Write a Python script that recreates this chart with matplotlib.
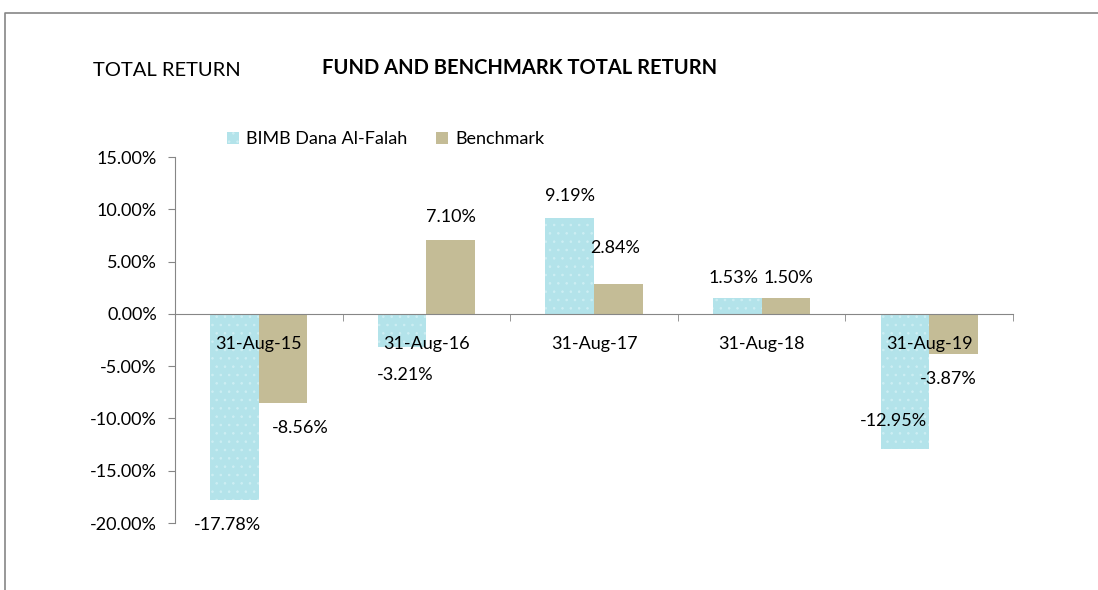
import matplotlib
matplotlib.use("Agg")
import matplotlib.pyplot as plt
import numpy as np
from matplotlib.lines import Line2D
from matplotlib.patches import Patch

categories = ["31-Aug-15", "31-Aug-16", "31-Aug-17", "31-Aug-18", "31-Aug-19"]
fund = [-17.78, -3.21, 9.19, 1.53, -12.95]
bench = [-8.56, 7.10, 2.84, 1.50, -3.87]
series_names = ["BIMB Dana Al-Falah", "Benchmark"]
yticks = [15, 10, 5, 0, -5, -10, -15, -20]

# label offsets in points (dx, dy) relative to bar end
fund_off = [(-5, -18), (2, -19.5), (0, 16), (-3, 14.5), (-8, 20)]
bench_off = [(12, -18), (0, 16.5), (-2, 26), (1.5, 14.5), (-4, -18)]

plt.rcParams['font.family'] = ['Lato', 'DejaVu Sans']
plt.rcParams['hatch.linewidth'] = 0.6

fig = plt.figure(figsize=(10.98, 5.90), dpi=100)
ax = fig.add_axes([175/1098, 67/590, (1013-175)/1098, (523-157)/590])

x = np.arange(len(categories))
w = 0.29
fund_c = "#b3e3ea"
bench_c = "#c4bc96"
ax.bar(x - w/2, fund, w, color=fund_c, edgecolor="#cdeef3", hatch="..", linewidth=0)
ax.bar(x + w/2, bench, w, color=bench_c, linewidth=0)

fs = 13
ax.set_xlim(-0.5, len(categories) - 0.5)
ax.set_ylim(-20, 15)
ax.set_yticks(yticks)
ax.set_yticklabels([f"{v:.2f}%" for v in yticks], fontsize=fs)
ax.tick_params(axis='y', direction='out', length=5, color="#868686", pad=8)

for s in ["top", "right"]:
    ax.spines[s].set_visible(False)
ax.spines["left"].set_color("#868686")
ax.spines["bottom"].set_color("#868686")
ax.spines["bottom"].set_position(("data", 0))
ax.set_xticks(x)
ax.set_xticklabels(categories, fontsize=fs)
ax.tick_params(axis='x', which='major', length=0, pad=16)
ax.set_xticks(np.arange(-0.5, len(categories), 1.0), minor=True)
ax.tick_params(axis='x', which='minor', direction='out', length=5, color="#868686")

for i in range(len(categories)):
    for val, xc, off in ((fund[i], x[i] - w/2, fund_off[i]), (bench[i], x[i] + w/2, bench_off[i])):
        ax.annotate(f"{val:.2f}%", (xc, val), xytext=off, textcoords="offset points",
                    ha="center", va="center", fontsize=fs)

handles = [Patch(facecolor=fund_c, edgecolor="#cdeef3", hatch="..", linewidth=0),
           Patch(facecolor=bench_c, linewidth=0)]
fig.legend(handles, series_names, loc="center left", bbox_to_anchor=(218/1098, 1-139/590),
           ncol=2, frameon=False, fontsize=fs, handlelength=0.65, handleheight=0.65,
           handletextpad=0.4, columnspacing=1.6, borderpad=0)

fig.text(93/1098, 1-70/590, "TOTAL RETURN", fontsize=14.5, ha="left", va="center")
fig.text(520/1098, 1-68/590, "FUND AND BENCHMARK TOTAL RETURN", fontsize=14.5, fontweight="bold",
         ha="center", va="center")

fig.add_artist(Line2D([5/1098, 5/1098, 1.0], [0, 1-13/590, 1-13/590], transform=fig.transFigure,
                      color="#868686", linewidth=1.2))

fig.savefig("out.png", dpi=100)
